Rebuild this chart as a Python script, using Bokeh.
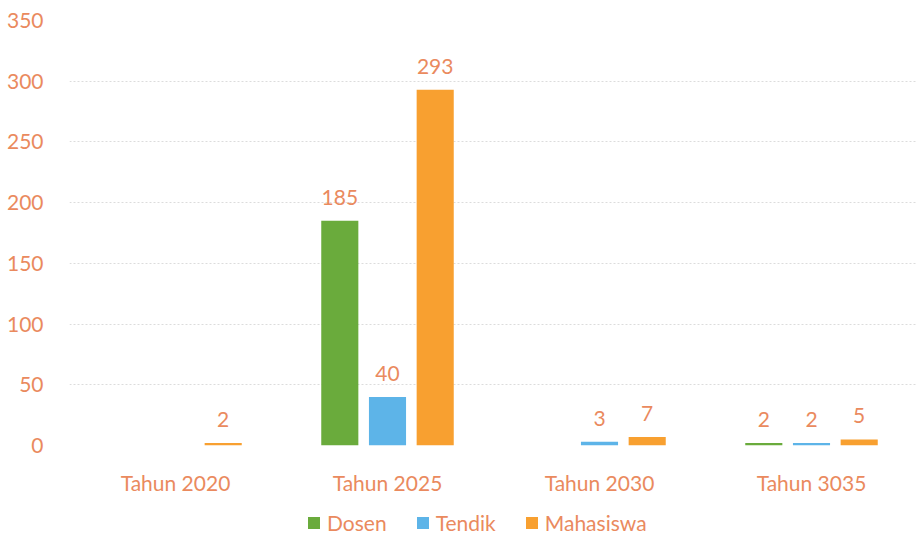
from bokeh.plotting import figure
from bokeh.layouts import column
from bokeh.models import FactorRange, ColumnDataSource, Legend, LegendItem, FixedTicker
from bokeh.transform import dodge
from bokeh.embed import file_html
from bokeh.resources import INLINE
from bokeh.core.properties import value

years = ["Tahun 2020", "Tahun 2025", "Tahun 2030", "Tahun 3035"]
series = ["Dosen", "Tendik", "Mahasiswa"]
dosen = [0, 185, 0, 2]
tendik = [0, 40, 3, 2]
mahasiswa = [2, 293, 7, 5]
y_ticks = [0, 50, 100, 150, 200, 250, 300, 350]

colors = ["#6aab3c", "#5db4e8", "#f8a030"]
text_color = "#ea8a5e"
FONT = "Lato"

p = figure(x_range=FactorRange(*years), y_range=(0, 350),
           width=917, height=503, output_backend="svg", toolbar_location=None,
           min_border_left=69, min_border_right=0, min_border_top=20,
           min_border_bottom=58)
p.outline_line_color = None
p.background_fill_color = "white"
p.border_fill_color = "white"

values = [dosen, tendik, mahasiswa]
offsets = [-0.225, 0.0, 0.225]
for name, vals, col, off in zip(series, values, colors, offsets):
    src = ColumnDataSource(dict(
        x=years, top=vals,
        lbl=[str(v) if v != 0 else "" for v in vals]))
    p.vbar(x=dodge("x", off, range=p.x_range), top="top", width=0.175,
           source=src, fill_color=col, line_color=None)
    p.text(x=dodge("x", off, range=p.x_range), y="top", text="lbl", source=src,
           text_align="center", text_baseline="bottom", y_offset=-16,
           text_font=value(FONT), text_font_size="21px", text_color=text_color)

p.yaxis.ticker = FixedTicker(ticks=y_ticks)
for ax in (p.xaxis[0], p.yaxis[0]):
    ax.axis_line_color = None
    ax.major_tick_line_color = None
    ax.minor_tick_line_color = None
    ax.major_label_text_font = FONT
    ax.major_label_text_font_size = "21px"
    ax.major_label_text_color = text_color
p.yaxis.major_label_standoff = 20
p.xaxis.major_label_standoff = 18

p.xgrid.grid_line_color = None
p.ygrid.grid_line_color = "#dcdcdc"
p.ygrid.grid_line_dash = "2 2"
p.ygrid.grid_line_width = 1

# legend strip (swatch renderers have zero height, only their legend glyphs show)
lg = figure(width=917, height=34, output_backend="svg", toolbar_location=None,
            min_border=0, x_range=(0, 1), y_range=(0, 1))
lg.outline_line_color = None
lg.axis.visible = False
lg.grid.visible = False
items = []
for name, col in zip(series, colors):
    sw = ColumnDataSource(dict(x=[0.5], top=[0.0]))
    r = lg.vbar(x="x", top="top", bottom="top", width=0.01, source=sw,
                fill_color=col, line_color=None)
    items.append(LegendItem(label=name, renderers=[r]))
legend = Legend(items=items, orientation="horizontal", location=(237, 2),
                label_text_font=FONT, label_text_font_size="21px",
                label_text_color=text_color, glyph_width=15, glyph_height=15,
                spacing=28, label_standoff=6, border_line_color=None,
                background_fill_alpha=0, margin=0, padding=2)
lg.add_layout(legend)

layout = column(p, lg, spacing=0)
open("out.html", "w").write(file_html(layout, INLINE))
